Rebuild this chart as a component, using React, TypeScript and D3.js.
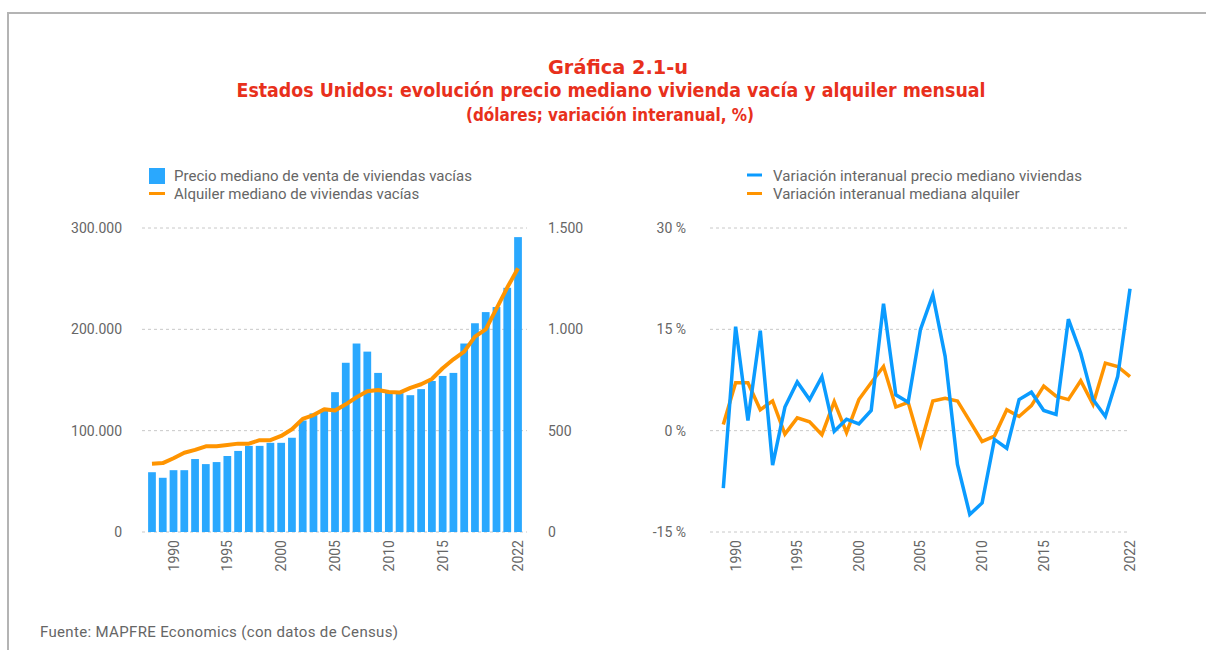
import React from "react";
import * as d3 from "d3";

const years = [1988,1989,1990,1991,1992,1993,1994,1995,1996,1997,1998,1999,2000,2001,2002,2003,2004,2005,2006,2007,2008,2009,2010,2011,2012,2013,2014,2015,2016,2017,2018,2019,2020,2021,2022];
const salePrice = [59000,53500,61000,61000,72000,67000,69000,75000,80000,85000,85000,88000,88000,93000,110000,117000,120000,138000,167000,186000,178000,157000,138000,137000,135000,141000,149000,154000,157000,186000,206000,217000,222000,241000,291000];
const rent = [337,340,364,391,405,423,423,429,436,436,453,453,474,507,558,577,606,600,630,665,694,701,691,688,711,729,755,808,852,890,964,1000,1102,1206,1301];

const varYears = [1989,1990,1991,1992,1993,1994,1995,1996,1997,1998,1999,2000,2001,2002,2003,2004,2005,2006,2007,2008,2009,2010,2011,2012,2013,2014,2015,2016,2017,2018,2019,2020,2021,2022];
const priceVar = [-8.5,15.4,1.5,14.8,-5.1,3.5,7.2,4.6,8.0,-0.1,1.7,1.0,3.0,18.8,5.3,4.2,15.0,20.1,11.0,-5.0,-12.4,-10.7,-1.3,-2.6,4.6,5.7,3.0,2.4,16.5,11.5,4.6,2.1,8.0,21.0];
const rentVar = [0.9,7.1,7.1,3.1,4.4,-0.5,1.9,1.3,-0.6,4.3,-0.3,4.6,7.1,9.5,3.5,4.2,-2.1,4.4,4.8,4.4,1.4,-1.6,-0.8,3.1,2.1,3.7,6.6,5.1,4.6,7.4,3.9,10.0,9.5,8.0];

const xTickYears = [1990,1995,2000,2005,2010,2015,2022];
const leftTicks = [0,100000,200000,300000];
const rightTicks = [0,500,1000,1500];
const varTicks = [-15,0,15,30];

const titleLines = [
  "Gráfica 2.1-u",
  "Estados Unidos: evolución precio mediano vivienda vacía y alquiler mensual",
  "(dólares; variación interanual, %)",
];
const legendLeft = ["Precio mediano de venta de viviendas vacías", "Alquiler mediano de viviendas vacías"];
const legendRight = ["Variación interanual precio mediano viviendas", "Variación interanual mediana alquiler"];
const source = "Fuente: MAPFRE Economics (con datos de Census)";

const RED = "#E8301C";
const GRAY = "#666666";
const BAR = "#2AA8FE";
const ORANGE = "#FF9400";
const BLUE = "#0A9BFF";
const GRID = "#c8c8c8";
const FONT = "Roboto, 'Noto Sans', sans-serif";
const TFONT = "'Liberation Sans Narrow', 'DejaVu Sans Condensed', Roboto, sans-serif";

const fmtThousands = (v: number) => d3.format(",")(v).replace(/,/g, ".");

export default function App() {
  const yTop = 228, yBot = 532;

  // left chart
  const xBand = d3.scaleBand<number>().domain(years).range([146.6, 523.4]).paddingInner(0.28).paddingOuter(0.14);
  const yL = d3.scaleLinear().domain([0, 300000]).range([yBot, yTop]);
  const yR = d3.scaleLinear().domain([0, 1500]).range([yBot, yTop]);
  const cx = (y: number) => (xBand(y) as number) + xBand.bandwidth() / 2;
  const rentLine = d3.line<number>().x((_, i) => cx(years[i])).y((d) => yR(d));

  // right chart
  const xP = d3.scalePoint<number>().domain(varYears).range([723.3, 1130]);
  const yV = d3.scaleLinear().domain([-15, 30]).range([yBot, yTop]);
  const vLine = d3.line<number>().x((_, i) => xP(varYears[i]) as number).y((d) => yV(d));

  return (
    <svg width={1206} height={650} style={{ position: "absolute", left: 0, top: 0, background: "#fff" }}>
      <rect x={8} y={13} width={1300} height={700} fill="none" stroke="#b4b4b4" strokeWidth={2} />

      {/* titles */}
      <text x={618} y={74} textAnchor="middle" fill={RED} fontFamily={TFONT} fontWeight={600} fontSize={20} textLength={140} lengthAdjust="spacingAndGlyphs">{titleLines[0]}</text>
      <text x={611} y={97} textAnchor="middle" fill={RED} fontFamily={TFONT} fontWeight={600} fontSize={20} textLength={749} lengthAdjust="spacingAndGlyphs">{titleLines[1]}</text>
      <text x={610} y={121} textAnchor="middle" fill={RED} fontFamily={TFONT} fontWeight={600} fontSize={17} textLength={288} lengthAdjust="spacingAndGlyphs">{titleLines[2]}</text>

      {/* left legend */}
      <rect x={149} y={168} width={16} height={16} fill={BAR} />
      <text x={174} y={181} fill={GRAY} fontFamily={FONT} fontSize={15} textLength={298}>{legendLeft[0]}</text>
      <line x1={149} x2={165} y1={193.5} y2={193.5} stroke={ORANGE} strokeWidth={3} />
      <text x={174} y={199} fill={GRAY} fontFamily={FONT} fontSize={15}>{legendLeft[1]}</text>

      {/* right legend */}
      <line x1={747} x2={762} y1={175} y2={175} stroke={BLUE} strokeWidth={3} />
      <text x={773} y={181} fill={GRAY} fontFamily={FONT} fontSize={15} textLength={309}>{legendRight[0]}</text>
      <line x1={747} x2={762} y1={193.5} y2={193.5} stroke={ORANGE} strokeWidth={3} />
      <text x={773} y={199} fill={GRAY} fontFamily={FONT} fontSize={15}>{legendRight[1]}</text>

      {/* left grid + axes */}
      {leftTicks.map((t) => (
        <g key={"lg" + t}>
          <line x1={142} x2={527} y1={yL(t)} y2={yL(t)} stroke={GRID} strokeDasharray="3,3" />
          <text x={122} y={yL(t) + 5} textAnchor="end" fill={GRAY} fontFamily={FONT} fontSize={14}>{fmtThousands(t)}</text>
        </g>
      ))}
      {rightTicks.map((t) => (
        <text key={"rt" + t} x={548} y={yR(t) + 5} fill={GRAY} fontFamily={FONT} fontSize={14}>{fmtThousands(t)}</text>
      ))}
      {salePrice.map((v, i) => (
        <rect key={"b" + i} x={xBand(years[i])} y={yL(v)} width={xBand.bandwidth()} height={yBot - yL(v)} fill={BAR} />
      ))}
      <path d={rentLine(rent) || ""} fill="none" stroke={ORANGE} strokeWidth={4} strokeLinejoin="round" />
      {xTickYears.map((y) => (
        <text key={"lx" + y} transform={`translate(${cx(y) + 5},540) rotate(-90)`} textAnchor="end" fill={GRAY} fontFamily={FONT} fontSize={14}>{y}</text>
      ))}

      {/* right grid + axes */}
      {varTicks.map((t) => (
        <g key={"vg" + t}>
          <line x1={710} x2={1130} y1={yV(t)} y2={yV(t)} stroke={GRID} strokeDasharray="3,3" />
          <text x={686} y={yV(t) + 5} textAnchor="end" fill={GRAY} fontFamily={FONT} fontSize={14}>{t + " %"}</text>
        </g>
      ))}
      <path d={vLine(rentVar) || ""} fill="none" stroke={ORANGE} strokeWidth={3.5} strokeLinejoin="miter" />
      <path d={vLine(priceVar) || ""} fill="none" stroke={BLUE} strokeWidth={3.5} strokeLinejoin="miter" />
      {xTickYears.map((y) => (
        <text key={"rx" + y} transform={`translate(${(xP(y) as number) + 5},540) rotate(-90)`} textAnchor="end" fill={GRAY} fontFamily={FONT} fontSize={14}>{y}</text>
      ))}

      <text x={40} y={637} fill={GRAY} fontFamily={FONT} fontSize={15} textLength={358}>{source}</text>
    </svg>
  );
}
